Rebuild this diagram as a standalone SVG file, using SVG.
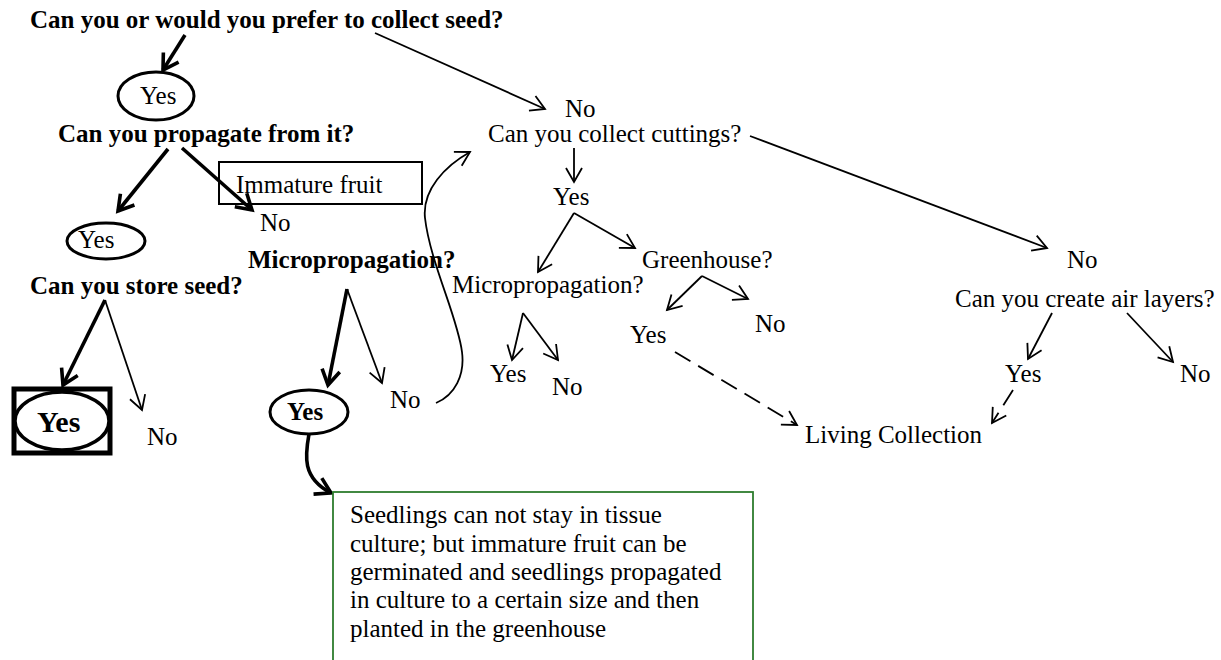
<svg xmlns="http://www.w3.org/2000/svg" width="1221" height="660" viewBox="0 0 1221 660">
  <defs>
    <style>
      text { font-family: "Liberation Serif", "Times New Roman", serif; font-size: 25px; fill: #000; }
      .b { font-weight: bold; }
      .thin { fill: none; stroke: #000; stroke-width: 1.8; marker-end: url(#headThin); }
      .thick { fill: none; stroke: #000; stroke-width: 3.6; marker-end: url(#headThick); }
      .dash { fill: none; stroke: #000; stroke-width: 1.8; stroke-dasharray: 18 9; marker-end: url(#headThin); }
      .oval { fill: #fff; stroke: #000; stroke-width: 3; }
    </style>
    <marker id="headThin" markerUnits="userSpaceOnUse" viewBox="0 0 20 20" markerWidth="20" markerHeight="20" refX="17" refY="10" orient="auto">
      <path d="M3,2 L17,10 L3,18" fill="none" stroke="#000" stroke-width="1.8"/>
    </marker>
    <marker id="headThick" markerUnits="userSpaceOnUse" viewBox="0 0 22 22" markerWidth="22" markerHeight="22" refX="18" refY="11" orient="auto">
      <path d="M3,2 L18,11 L3,20" fill="none" stroke="#000" stroke-width="3.6"/>
    </marker>
  </defs>
  <rect width="1221" height="660" fill="#fff"/>

  <!-- connectors -->
  <g id="connectors">
    <path class="thick" d="M185,35 L163,70"/>
    <path class="thin" d="M375,33 L545,109"/>
    <path class="thick" d="M168,149 L118,211"/>
    <path class="thick" d="M182,148 L252,210"/>
    <path class="thick" d="M105,300 L63,385"/>
    <path class="thin" d="M105,300 L142,410"/>
    <path class="thick" d="M347,289 L328,385"/>
    <path class="thin" d="M347,289 L382,383"/>
    <path class="thick" d="M309,434 C305,456 302,478 331,493"/>
    <path class="thin" d="M436,403 C455,395 465,375 462,352 C458,318 430,262 425,218 C422,190 445,166 470,152"/>
    <path class="thin" d="M574,148 L574,182"/>
    <path class="thin" d="M574,213 L635,248"/>
    <path class="thin" d="M574,213 L538,272"/>
    <path class="thin" d="M702,276 L667,310"/>
    <path class="thin" d="M702,276 L748,299"/>
    <path class="thin" d="M523,313 L512,360"/>
    <path class="thin" d="M523,313 L558,360"/>
    <path class="dash" d="M675,352 L797,425"/>
    <path class="thin" d="M750,136 L1047,248"/>
    <path class="thin" d="M1052,313 L1028,359"/>
    <path class="thin" d="M1127,313 L1173,362"/>
    <path class="dash" d="M1013,390 L992,423"/>
  </g>

  <!-- seed branch -->
  <g id="q-collect-seed">
    <text class="b" x="30" y="28">Can you or would you prefer to collect seed?</text>
  </g>
  <g id="yes-collect">
    <ellipse class="oval" cx="156" cy="96" rx="38" ry="24"/>
    <text x="140" y="104">Yes</text>
  </g>
  <g id="q-propagate">
    <text class="b" x="58" y="142">Can you propagate from it?</text>
  </g>
  <g id="note-immature">
    <rect x="219" y="162" width="203" height="42" fill="none" stroke="#000" stroke-width="2"/>
    <text x="236" y="193">Immature fruit</text>
  </g>
  <g id="no-propagate">
    <text x="260" y="231">No</text>
  </g>
  <g id="yes-propagate">
    <ellipse class="oval" cx="106" cy="241" rx="39" ry="18"/>
    <text x="78" y="248">Yes</text>
  </g>
  <g id="q-store">
    <text class="b" x="30" y="294">Can you store seed?</text>
  </g>
  <g id="yes-store">
    <rect x="14" y="389" width="96" height="64" fill="#fff" stroke="#000" stroke-width="5"/>
    <ellipse cx="62" cy="421" rx="47" ry="29" fill="#fff" stroke="#000" stroke-width="3.5"/>
    <text class="b" x="37" y="432" style="font-size:30px">Yes</text>
  </g>
  <g id="no-store">
    <text x="147" y="445">No</text>
  </g>
  <g id="q-micro-seed">
    <text class="b" x="248" y="268">Micropropagation?</text>
  </g>
  <g id="yes-micro-seed">
    <ellipse class="oval" cx="309" cy="412" rx="39" ry="22"/>
    <text class="b" x="287" y="420">Yes</text>
  </g>
  <g id="no-micro-seed">
    <text x="390" y="408">No</text>
  </g>
  <g id="note-seedlings">
    <rect x="333" y="492" width="420" height="190" fill="#fff" stroke="#2e7d2e" stroke-width="1.8"/>
    <text x="350" y="523">Seedlings can not stay in tissue</text>
    <text x="350" y="552">culture; but immature fruit can be</text>
    <text x="350" y="580">germinated and seedlings propagated</text>
    <text x="350" y="608">in culture to a certain size and then</text>
    <text x="350" y="637">planted in the greenhouse</text>
  </g>

  <!-- cuttings branch -->
  <g id="no-collect">
    <text x="565" y="117">No</text>
  </g>
  <g id="q-cuttings">
    <text x="488" y="142">Can you collect cuttings?</text>
  </g>
  <g id="yes-cuttings">
    <text x="553" y="205">Yes</text>
  </g>
  <g id="q-greenhouse">
    <text x="642" y="268">Greenhouse?</text>
  </g>
  <g id="q-micro-cut">
    <text x="452" y="293">Micropropagation?</text>
  </g>
  <g id="yes-greenhouse">
    <text x="630" y="343">Yes</text>
  </g>
  <g id="no-greenhouse">
    <text x="755" y="332">No</text>
  </g>
  <g id="yes-micro-cut">
    <text x="490" y="382">Yes</text>
  </g>
  <g id="no-micro-cut">
    <text x="552" y="395">No</text>
  </g>
  <g id="living-collection">
    <text x="805" y="443">Living Collection</text>
  </g>

  <!-- air layer branch -->
  <g id="no-cuttings">
    <text x="1067" y="268">No</text>
  </g>
  <g id="q-air-layers">
    <text x="955" y="307">Can you create air layers?</text>
  </g>
  <g id="yes-air">
    <text x="1005" y="382">Yes</text>
  </g>
  <g id="no-air">
    <text x="1180" y="382">No</text>
  </g>
</svg>
